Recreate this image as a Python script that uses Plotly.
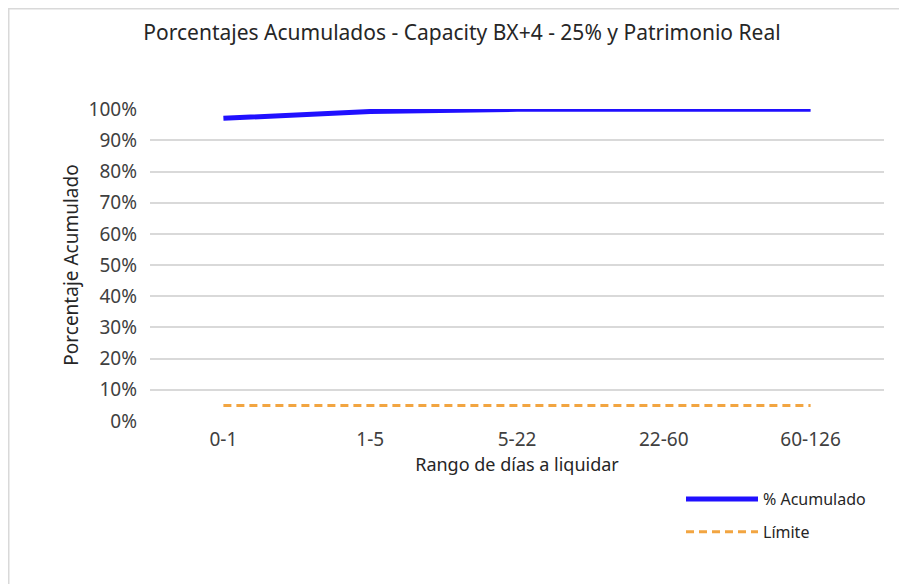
import plotly.graph_objects as go

categories = ["0-1", "1-5", "5-22", "22-60", "60-126"]
acumulado = [0.971, 0.993, 1.0, 1.0, 1.0]
limite = [0.05, 0.05, 0.05, 0.05, 0.05]
y_ticks = [0, 0.1, 0.2, 0.3, 0.4, 0.5, 0.6, 0.7, 0.8, 0.9, 1.0]
y_tick_labels = ["0%", "10%", "20%", "30%", "40%", "50%", "60%", "70%", "80%", "90%", "100%"]

FONT = "Noto Sans"
OFF = 8  # browser body margin

fig = go.Figure()
fig.add_trace(go.Scatter(
    x=categories, y=acumulado, mode="lines", name="% Acumulado",
    line=dict(color="#2010FF", width=5), legendgroup="a"))
fig.add_trace(go.Scatter(
    x=categories, y=limite, mode="lines", name="Límite",
    line=dict(color="#F2A541", width=3, dash="8px,5px"), legendgroup="b"))

W, H = 899, 576
L = 150 - OFF
T = 109 - OFF
R = W - (884 - OFF)
B = H - (421 - OFF)
pw, ph = W - L - R, H - T - B


def px(x_page):
    return (x_page - OFF - L) / pw


def py(y_page):
    return (H - B - (y_page - OFF)) / ph


fig.update_layout(
    width=W, height=H,
    margin=dict(l=L, r=R, t=T, b=B, autoexpand=False),
    paper_bgcolor="white", plot_bgcolor="white",
    font=dict(family=FONT, color="#404040", size=18),
    title=dict(text="Porcentajes Acumulados - Capacity BX+4 - 25% y Patrimonio Real",
               x=(462 - OFF) / W, xref="container", xanchor="center",
               y=1 - (33 - OFF) / H, yref="container", yanchor="middle",
               font=dict(family=FONT, size=21, color="#262626")),
    xaxis=dict(type="category", range=[-0.5, 4.5], showgrid=False, showline=False,
               zeroline=False, ticks="", ticklabelstandoff=5,
               tickfont=dict(size=19, color="#404040"),
               title=dict(text="Rango de días a liquidar", standoff=6,
                          font=dict(size=18, color="#262626"))),
    yaxis=dict(range=[0, 1.001], tickvals=y_ticks, ticktext=y_tick_labels,
               showgrid=True, gridcolor="#D9D9D9", gridwidth=1.5, zeroline=False,
               showline=False, ticks="", ticklabelstandoff=12,
               tickfont=dict(size=19, color="#404040"),
               title=dict(text="Porcentaje Acumulado", standoff=4,
                          font=dict(size=19, color="#262626"))),
    showlegend=True,
    legend=dict(x=px(681), y=py(482), xanchor="left", yanchor="top",
                orientation="v", itemwidth=72, tracegroupgap=9,
                font=dict(size=16, color="#262626"), bgcolor="rgba(0,0,0,0)"),
    shapes=[dict(type="rect", xref="paper", yref="paper",
                 x0=px(8.5), x1=px(W + 40), y0=py(H + 40), y1=py(8.5),
                 line=dict(color="#D9D9D9", width=2), fillcolor="rgba(0,0,0,0)",
                 layer="below")],
)

fig.write_html("out.html")
